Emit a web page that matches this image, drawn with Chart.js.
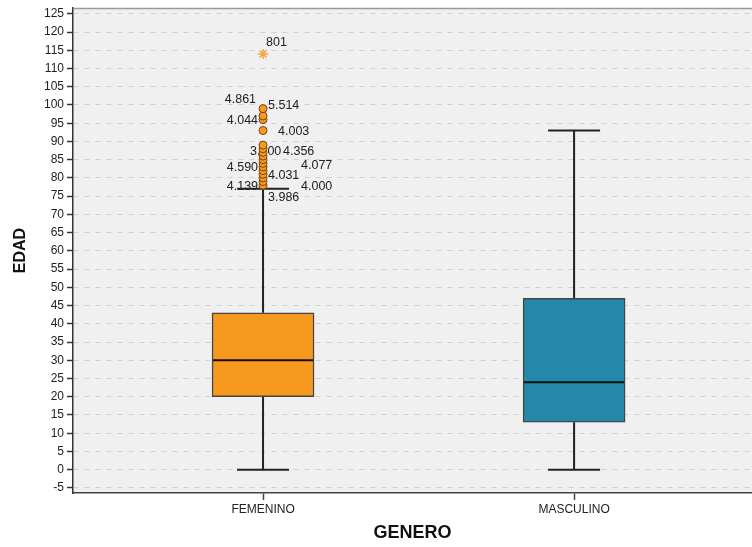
<!DOCTYPE html>
<html>
<head>
<meta charset="utf-8">
<script src="https://cdn.jsdelivr.net/npm/chart.js@4/dist/chart.umd.min.js"></script>
<style>
  html, body { margin: 0; padding: 0; background: #fff; }
  #wrap { width: 752px; height: 547px; }
</style>
</head>
<body>
<div id="wrap"><canvas id="grafico"></canvas></div>
<script>
/* datos del diagrama de caja */
const categorias = ['FEMENINO', 'MASCULINO'];
const minimo  = [0, 0];
const q1      = [20, 13];
const mediana = [30, 24];
const q3      = [43, 47];
const maximo  = [77, 93];

// valores atipicos (solo FEMENINO)
const atipicosFem = [78, 79, 80, 81, 82, 83, 84, 85, 86, 87, 88, 89, 93, 96, 97, 99];
const extremosFem = [114];

// etiquetas de casos y el valor al que van pegadas
const etiquetas      = ['801', '4.861', '5.514', '4.044', '4.003', '3.000', '4.356', '4.590', '4.077', '4.031', '4.139', '4.000', '3.986'];
const etiquetasValor = [114, 99, 99, 96, 93, 87, 87, 83, 83, 81, 78, 78, 78];

const colores = ['#f7991e', '#2388aa'];
const fuente = "'Liberation Sans', Arial, sans-serif";
Chart.defaults.font.family = fuente;

/* desplazamiento (px) de cada etiqueta respecto a su punto */
const posEtiquetas = [
  [3, -11, 'left'], [-7, -9, 'right'], [5, -3, 'left'], [-5, 1, 'right'],
  [15, 1, 'left'], [-13, -1, 'left'], [20, -1, 'left'], [-5, 1, 'right'],
  [38, -1, 'left'], [5, 1, 'left'], [-5, 1, 'right'], [38, 1, 'left'], [5, 12, 'left']
];

const cajaPlugin = {
  id: 'cajaPlugin',
  beforeDraw(chart) {
    const { ctx, chartArea: a } = chart;
    ctx.save();
    ctx.fillStyle = '#f0f0f0';
    ctx.fillRect(a.left, a.top, a.right - a.left, a.bottom - a.top);
    ctx.restore();
  },
  beforeDatasetsDraw(chart) {
    const { ctx, scales: { x, y } } = chart;
    ctx.save();
    // bigotes
    ctx.strokeStyle = '#222';
    ctx.lineWidth = 2;
    categorias.forEach((c, i) => {
      const px = x.getPixelForValue(i + 1);
      ctx.beginPath();
      ctx.moveTo(px, y.getPixelForValue(q3[i]));
      ctx.lineTo(px, y.getPixelForValue(maximo[i]));
      ctx.moveTo(px, y.getPixelForValue(q1[i]));
      ctx.lineTo(px, y.getPixelForValue(minimo[i]));
      [minimo[i], maximo[i]].forEach(v => {
        const py = y.getPixelForValue(v);
        ctx.moveTo(px - 26, py);
        ctx.lineTo(px + 26, py);
      });
      ctx.stroke();
    });
    // etiquetas de casos (debajo de los puntos)
    ctx.fillStyle = '#222';
    ctx.font = '12.5px ' + fuente;
    ctx.textBaseline = 'middle';
    const px0 = x.getPixelForValue(1);
    etiquetas.forEach((t, i) => {
      const [dx, dy, al] = posEtiquetas[i];
      ctx.textAlign = al;
      ctx.fillText(t, px0 + dx, y.getPixelForValue(etiquetasValor[i]) + dy);
    });
    ctx.restore();
  },
  afterDatasetsDraw(chart) {
    const { ctx, chartArea: a, scales: { x, y } } = chart;
    ctx.save();
    // mediana
    ctx.strokeStyle = '#111';
    ctx.lineWidth = 2;
    categorias.forEach((c, i) => {
      const px = x.getPixelForValue(i + 1);
      const py = y.getPixelForValue(mediana[i]);
      ctx.beginPath();
      ctx.moveTo(px - 50, py);
      ctx.lineTo(px + 50, py);
      ctx.stroke();
    });
    // borde superior
    ctx.strokeStyle = '#999';
    ctx.lineWidth = 1.5;
    ctx.beginPath();
    ctx.moveTo(a.left, a.top + 0.5);
    ctx.lineTo(a.right, a.top + 0.5);
    ctx.stroke();
    ctx.restore();
  }
};

const ctx = document.getElementById('grafico').getContext('2d');
const grafico = new Chart(ctx, {
  type: 'bar',
  data: {
    datasets: [
      {
        type: 'scatter',
        data: atipicosFem.map(v => ({ x: 1, y: v })),
        pointRadius: 4,
        pointBackgroundColor: colores[0],
        pointBorderColor: '#7a4610',
        pointBorderWidth: 1
      },
      {
        type: 'scatter',
        data: extremosFem.map(v => ({ x: 1, y: v })),
        pointStyle: 'star',
        pointRadius: 5,
        pointBorderColor: '#f4a447',
        pointBorderWidth: 1.5
      },
      {
        data: categorias.map((c, i) => ({ x: i + 1, y: [q1[i], q3[i]] })),
        backgroundColor: colores,
        borderColor: '#444',
        borderWidth: 1.5,
        borderSkipped: false,
        barThickness: 102
      }
    ]
  },
  options: {
    responsive: true,
    maintainAspectRatio: false,
    animation: false,
    layout: { autoPadding: false, padding: { top: 8, left: 0, right: 0, bottom: 0 } },
    plugins: { legend: { display: false }, tooltip: { enabled: false } },
    scales: {
      x: {
        type: 'linear',
        offset: false,
        bounds: 'data',
        min: 0.389,
        max: 2.572,
        afterBuildTicks: s => { s.ticks = categorias.map((c, i) => ({ value: i + 1 })); },
        ticks: {
          callback: v => categorias[v - 1],
          color: '#222',
          font: { size: 12 },
          padding: 2,
          autoSkip: false,
          maxRotation: 0
        },
        grid: { offset: false, drawOnChartArea: false, tickLength: 7, tickColor: '#444', tickWidth: 1.5 },
        border: { color: '#444', width: 1.5 },
        title: {
          display: true, text: 'GENERO', color: '#111',
          font: { size: 18, weight: 'bold' }, padding: { top: 0, bottom: 3 }
        },
        afterFit: s => { s.height = 54; s.paddingLeft = 0; s.paddingRight = 0; }
      },
      y: {
        min: -6.4,
        max: 126.6,
        ticks: {
          stepSize: 5,
          includeBounds: false,
          autoSkip: false,
          color: '#222',
          font: { size: 12 },
          padding: 3
        },
        grid: { color: '#d0d0d0', lineWidth: 1, tickLength: 6, tickColor: '#333', tickWidth: 1.5 },
        border: { color: '#333', width: 1.5, dash: [5, 6] },
        title: {
          display: true, text: 'EDAD', color: '#111',
          font: { size: 16, weight: 'bold' }, padding: { top: 11, bottom: 0 }
        },
        afterFit: s => { s.width = 73; s.paddingTop = 0; s.paddingBottom = 0; }
      }
    }
  },
  plugins: [cajaPlugin]
});
</script>
</body>
</html>
